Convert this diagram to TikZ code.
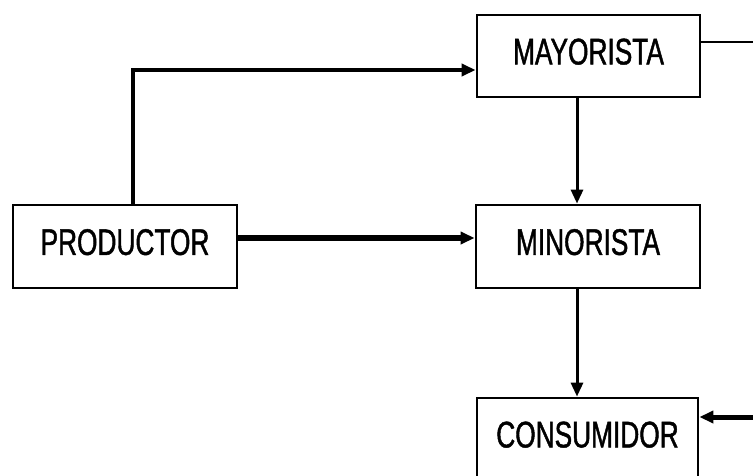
\documentclass[tikz,border=0pt]{standalone}
\usepackage{fontspec}
\setmainfont{Liberation Sans}[FakeStretch=0.71,FakeBold=1.2]
\usetikzlibrary{arrows.meta,calc}
\begin{document}
\begin{tikzpicture}[x=1pt,y=-1pt,
  box/.style={draw,line width=2.8pt,inner sep=0pt,minimum width=223pt,minimum height=82pt,
    text height=26pt,text depth=9.2pt,font=\fontsize{37}{40}\selectfont},
  tip/.style={-{Triangle[length=14pt,width=12pt]}},
]
\clip (0,0) rectangle (753,475);
\fill[white] (0,0) rectangle (753,475);

\node[box] (mayo) at (588.5,56) {MAYORISTA};
\node[box,minimum width=224pt,minimum height=83pt] (prod) at (125,246.5) {PRODUCTOR};
\node[box,minimum width=224pt,minimum height=83pt] (mino) at (588,246.5) {MINORISTA};
\node[box,minimum width=221pt] (cons) at (587.5,439) {CONSUMIDOR};

\coordinate (outa) at (760,42);
\coordinate (outb) at (760,417);

% productor -> mayorista
\draw[tip,line width=3.5pt] ([xshift=8pt]prod.north) |- ([yshift=-14pt]mayo.west);
% productor -> minorista
\draw[tip,line width=6pt] ([yshift=8.5pt]prod.east) -- ([yshift=8.5pt]mino.west);
% mayorista -> minorista
\draw[tip,line width=3pt] ([xshift=-11.5pt]mayo.south) -- ([xshift=-11pt]mino.north);
% minorista -> consumidor
\draw[tip,line width=3pt] ([xshift=-11pt]mino.south) -- ([xshift=-10.5pt]cons.north);
% lines leaving and entering on the right
\draw[line width=2.5pt] ([yshift=14pt]mayo.east) -- (outa);
\draw[tip,line width=5pt] (outb) -- ([yshift=22pt]cons.east);
\end{tikzpicture}
\end{document}
